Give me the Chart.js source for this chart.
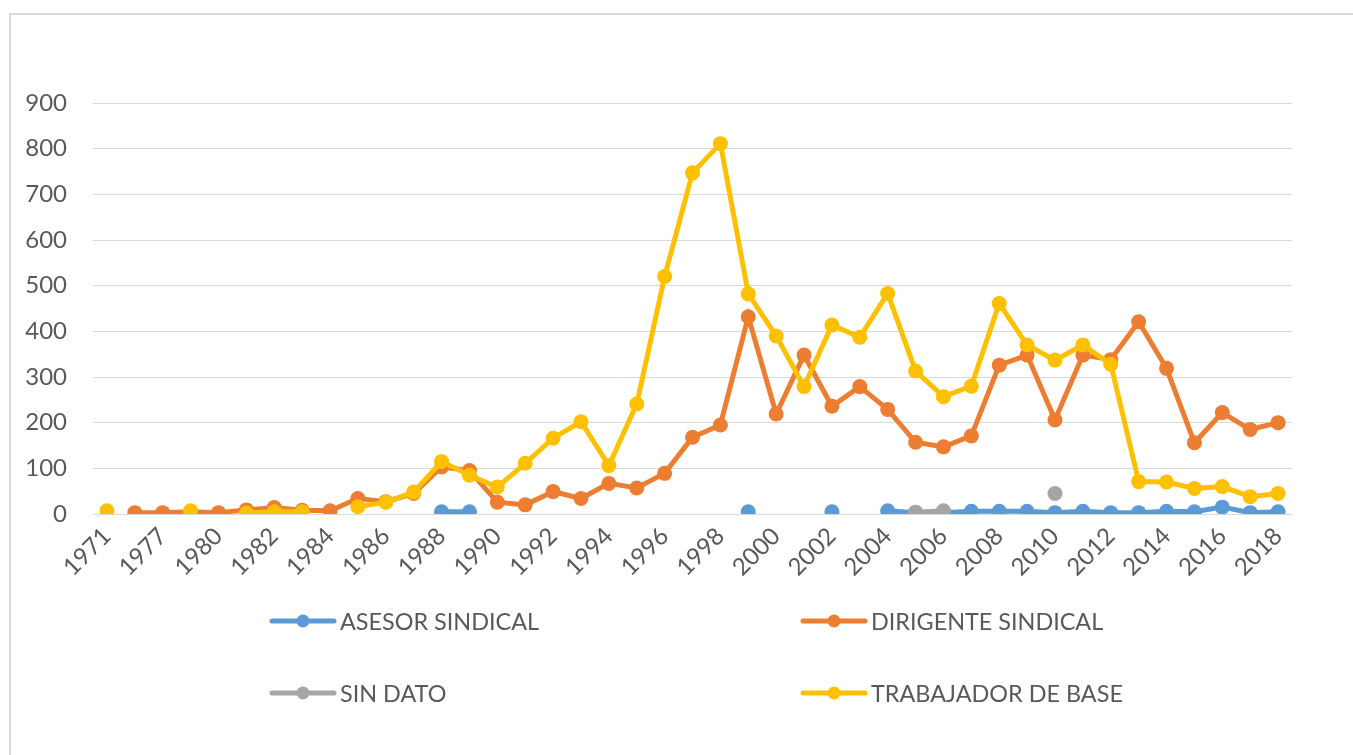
<!DOCTYPE html>
<html>
<head>
<meta charset="utf-8">
<script src="https://cdn.jsdelivr.net/npm/chart.js@4.4.0/dist/chart.umd.min.js"></script>
<style>
  html, body { margin: 0; padding: 0; background: #fff; }
  #wrap { position: relative; width: 1353px; height: 755px; overflow: hidden; }
  #frame { position: absolute; left: 9px; top: 13px; width: 1400px; height: 800px;
           border-top: 2px solid #d9d9d9; border-left: 2px solid #d9d9d9; pointer-events: none; }
  canvas { position: absolute; left: 0; top: 0; }
</style>
</head>
<body>
<div id="wrap">
  <canvas id="chart" width="1353" height="755"></canvas>
  <div id="frame"></div>
</div>
<script>
// =============================================================================
// DATA
// =============================================================================

const years = [
  '1971', '1976', '1977', '1979', '1980', '1981', '1982', '1983', '1984', '1985',
  '1986', '1987', '1988', '1989', '1990', '1991', '1992', '1993', '1994', '1995',
  '1996', '1997', '1998', '1999', '2000', '2001', '2002', '2003', '2004', '2005',
  '2006', '2007', '2008', '2009', '2010', '2011', '2012', '2013', '2014', '2015',
  '2016', '2017', '2018'
];

const asesorSindical = [
  null, null, null, null, null, null, null, null, null, null,
  null, null, 5, 5, null, null, null, null, null, null,
  null, null, null, 5, null, null, 5, null, 7, 3,
  3, 6, 6, 6, 3, 6, 3, 3, 6, 5,
  15, 3, 5
];

const dirigenteSindical = [
  null, 3, 3, 5, 3, 9, 14, 8, 7, 34,
  27, 45, 103, 95, 26, 20, 49, 34, 67, 57,
  89, 168, 195, 432, 219, 348, 236, 279, 229, 157,
  147, 171, 326, 348, 206, 348, 338, 421, 319, 156,
  222, 185, 200
];

const sinDato = [
  null, null, null, null, null, null, null, null, null, null,
  null, null, null, null, null, null, null, null, null, null,
  null, null, null, null, null, null, null, null, null, 4,
  7, null, null, null, 45, null, null, null, null, null,
  null, null, null
];

const trabajadorDeBase = [
  7, null, null, 7, null, 2, 5, 5, null, 16,
  26, 48, 115, 85, 59, 111, 166, 202, 106, 241,
  520, 747, 811, 482, 390, 279, 414, 387, 483, 313,
  257, 280, 461, 370, 337, 370, 328, 71, 70, 56,
  60, 38, 45
];

const seriesNames = ['ASESOR SINDICAL', 'DIRIGENTE SINDICAL', 'SIN DATO', 'TRABAJADOR DE BASE'];
const seriesColors = ['#5B9BD5', '#ED7D31', '#A5A5A5', '#FFC000'];

const FONT = 'Lato, "Open Sans", sans-serif';
const TEXT = '#595959';

// =============================================================================
// LEGEND (two columns, two rows, like the spreadsheet)
// =============================================================================

const gridLegend = {
  id: 'gridLegend',
  afterDraw(chart) {
    const ctx = chart.ctx;
    const cols = [272, 803];
    const rows = [621, 693];
    ctx.save();
    seriesNames.forEach((name, i) => {
      const x = cols[i % 2];
      const y = rows[Math.floor(i / 2)];
      ctx.strokeStyle = seriesColors[i];
      ctx.lineWidth = 5;
      ctx.lineCap = 'round';
      ctx.beginPath();
      ctx.moveTo(x, y);
      ctx.lineTo(x + 62, y);
      ctx.stroke();
      ctx.fillStyle = seriesColors[i];
      ctx.beginPath();
      ctx.arc(x + 31, y, 6.5, 0, Math.PI * 2);
      ctx.fill();
      ctx.fillStyle = TEXT;
      ctx.font = '23.4px ' + FONT;
      ctx.textBaseline = 'middle';
      ctx.textAlign = 'left';
      ctx.fillText(name, x + 68, y + 1);
    });
    ctx.restore();
  }
};

// =============================================================================
// CHART
// =============================================================================

const datasetValues = [asesorSindical, dirigenteSindical, sinDato, trabajadorDeBase];

const ctx = document.getElementById('chart').getContext('2d');
new Chart(ctx, {
  type: 'line',
  data: {
    labels: years,
    datasets: datasetValues.map((values, i) => ({
      label: seriesNames[i],
      data: values,
      borderColor: seriesColors[i],
      backgroundColor: seriesColors[i],
      borderWidth: 5,
      pointRadius: 7.5,
      pointBorderWidth: 0,
      pointBackgroundColor: seriesColors[i],
      tension: 0,
      spanGaps: false,
      order: 3 - i
    }))
  },
  options: {
    responsive: false,
    animation: false,
    layout: { padding: { left: 0, right: 61, top: 103, bottom: 161 } },
    plugins: {
      legend: { display: false },
      tooltip: { enabled: false }
    },
    scales: {
      x: {
        offset: true,
        grid: { display: false, drawTicks: false },
        border: { display: false },
        afterFit: (scale) => { scale.height = 80; },
        ticks: {
          autoSkip: false,
          minRotation: 45,
          maxRotation: 45,
          padding: 8,
          color: TEXT,
          font: { family: FONT, size: 24 },
          callback: function(value, index) {
            return index % 2 === 0 ? this.getLabelForValue(value) : '';
          }
        }
      },
      y: {
        min: 0,
        max: 900,
        grid: { color: '#d9d9d9', lineWidth: 1, drawTicks: false },
        border: { display: false },
        afterFit: (scale) => { scale.width = 93; },
        ticks: {
          stepSize: 100,
          padding: 26,
          color: TEXT,
          font: { family: FONT, size: 24 }
        }
      }
    }
  },
  plugins: [gridLegend]
});
</script>
</body>
</html>
